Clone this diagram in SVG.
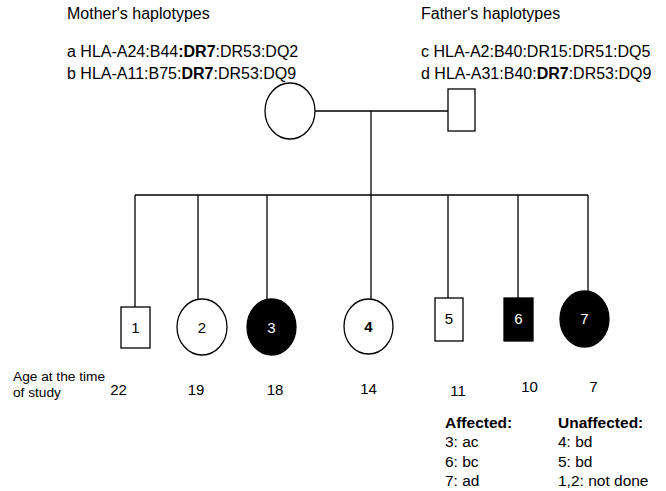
<svg xmlns="http://www.w3.org/2000/svg" width="666" height="491" viewBox="0 0 666 491">
<style>
text{font-family:"Liberation Sans",Arial,sans-serif;fill:#000}
.h{font-size:16px}
.b{font-weight:bold}
.n{font-size:15px;text-anchor:middle}
.w{fill:#fff}
.age{font-size:15px;text-anchor:middle}
.lg{font-size:15.5px}
.line{stroke:#000;stroke-width:1.3;fill:none}
.open{fill:#fff;stroke:#000;stroke-width:1.3}
.fill{fill:#000;stroke:#000;stroke-width:1.3}
</style>
<rect width="666" height="491" fill="#fff"/>
<g id="haplotypes">
<text class="h" x="67" y="19">Mother's haplotypes</text>
<text class="h" x="67" y="57">a HLA-A24:B44<tspan class="b">:DR7</tspan>:DR53:DQ2</text>
<text class="h" x="67" y="79">b HLA-A11:B75:<tspan class="b">DR7</tspan>:DR53:DQ9</text>
<text class="h" x="421" y="19">Father's haplotypes</text>
<text class="h" x="421" y="57">c HLA-A2:B40:DR15:DR51:DQ5</text>
<text class="h" x="421" y="79">d HLA-A31:B40:<tspan class="b">DR7</tspan>:DR53:DQ9</text>
</g>
<g id="connectors">
<line class="line" x1="315" y1="111" x2="448" y2="111"/>
<line class="line" x1="371" y1="111" x2="371" y2="299"/>
<line class="line" x1="135" y1="195" x2="588" y2="195"/>
<line class="line" x1="135" y1="195" x2="135" y2="307"/>
<line class="line" x1="198" y1="195" x2="198" y2="299"/>
<line class="line" x1="267" y1="195" x2="267" y2="299"/>
<line class="line" x1="448" y1="195" x2="448" y2="298"/>
<line class="line" x1="518" y1="195" x2="518" y2="298"/>
<line class="line" x1="588" y1="195" x2="588" y2="291"/>
</g>
<g id="mother"><ellipse class="open" cx="290" cy="111" rx="25" ry="28"/></g>
<g id="father"><rect class="open" x="448" y="89" width="27" height="42"/></g>
<g id="child1"><rect class="open" x="121" y="307" width="29" height="41"/><text class="n" x="135.5" y="333">1</text></g>
<g id="child2"><ellipse class="open" cx="202" cy="327" rx="25" ry="28"/><text class="n" x="202" y="333">2</text></g>
<g id="child3"><ellipse class="fill" cx="271.5" cy="327" rx="24.5" ry="28"/><text class="n w" x="271.5" y="333">3</text></g>
<g id="child4"><ellipse class="open" cx="368.5" cy="326.5" rx="24.5" ry="27.5"/><text class="n b" x="368.5" y="332">4</text></g>
<g id="child5"><rect class="open" x="435" y="298" width="28" height="43"/><text class="n" x="449" y="324">5</text></g>
<g id="child6"><rect class="fill" x="504" y="298" width="29" height="43"/><text class="n w" x="518.5" y="324">6</text></g>
<g id="child7"><ellipse class="fill" cx="584.5" cy="319" rx="24.5" ry="28"/><text class="n w" x="584.5" y="324">7</text></g>
<g id="ages">
<text style="font-size:13.7px" x="13" y="381">Age at the time</text>
<text style="font-size:13.7px" x="13" y="397">of study</text>
<text class="age" x="118.5" y="395">22</text>
<text class="age" x="196" y="395">19</text>
<text class="age" x="275" y="395">18</text>
<text class="age" x="368.5" y="394">14</text>
<text class="age" x="458" y="396">11</text>
<text class="age" x="529.5" y="392">10</text>
<text class="age" x="593.5" y="392">7</text>
</g>
<g id="legend">
<text class="lg b" x="445" y="428">Affected:</text>
<text class="lg" x="445" y="447">3: ac</text>
<text class="lg" x="445" y="467">6: bc</text>
<text class="lg" x="445" y="486">7: ad</text>
<text class="lg b" x="558" y="428">Unaffected:</text>
<text class="lg" x="558" y="447">4: bd</text>
<text class="lg" x="558" y="467">5: bd</text>
<text class="lg" x="558" y="486">1,2: not done</text>
</g>
</svg>
